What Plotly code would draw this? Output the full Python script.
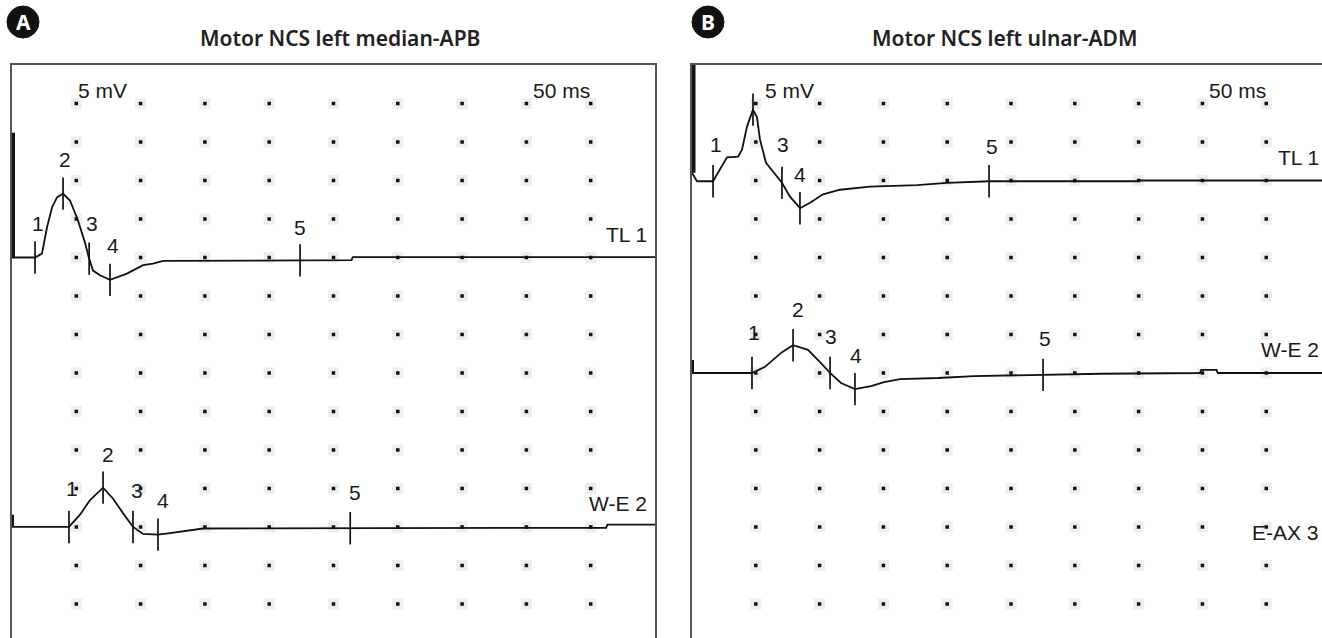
import numpy as np
import plotly.graph_objects as go

W, H = 1322, 638

# ---------------- data (time in ms, amplitude in mV relative to baseline) ----------------
# Panel A : Motor NCS left median-APB
a1_t = [0, 1.79, 2.33, 2.72, 3.11, 3.50, 3.97, 4.51, 5.13, 5.68, 5.99, 6.30, 6.84, 7.62,
        8.94, 10.19, 10.96, 11.74, 26.4, 26.5, 50]
a1_v = [0, 0, 0.5, 3.9, 6.5, 7.8, 8.3, 7.4, 4.8, 1.9, -0.1, -1.7, -2.3, -2.9,
        -2.1, -1.0, -0.8, -0.45, -0.35, 0.05, 0.05]
a1_marks = [1.79, 3.97, 6.0, 7.62, 22.4]
a1_labels = ["1", "2", "3", "4", "5"]
a1_label_t = [2.02, 4.12, 6.22, 7.85, 22.4]
a1_label_v = [4.4, 12.7, 4.4, 1.6, 3.9]

a2_t = [0, 4.43, 5.29, 6.07, 7.08, 7.85, 8.63, 9.41, 10.19, 11.35, 12.29, 14.85, 46.2, 46.3, 50]
a2_v = [0, 0, 1.6, 3.5, 5.1, 3.7, 1.8, 0, -0.9, -1.0, -0.8, -0.2, -0.1, 0.3, 0.3]
a2_marks = [4.43, 7.08, 9.41, 11.35, 26.3]
a2_labels = ["1", "2", "3", "4", "5"]
a2_label_t = [4.67, 7.47, 9.72, 11.74, 26.67]
a2_label_v = [5.0, 9.4, 4.8, 3.5, 4.5]

# Panel B : Motor NCS left ulnar-ADM
b1_t = [0, 0.39, 1.65, 2.04, 2.74, 3.61, 3.92, 4.31, 4.62, 4.78, 5.09, 5.33, 5.80, 6.35,
        7.05, 7.68, 8.46, 9.25, 10.27, 11.60, 13.95, 17.63, 19.98, 23.28, 34.95, 35.1, 49.4]
b1_v = [1.0, -0.1, -0.1, 1.0, 3.0, 3.1, 4.0, 7.0, 8.6, 9.2, 8.2, 5.3, 2.3, 1.2,
        -0.3, -2.1, -3.6, -2.9, -1.8, -1.2, -0.8, -0.6, -0.3, -0.1, -0.1, 0.0, 0.0]
b1_marks = [1.65, 4.78, 7.05, 8.46, 23.28]
b1_labels = ["1", "", "3", "4", "5"]
b1_label_t = [1.88, 4.78, 7.13, 8.46, 23.5]
b1_label_v = [4.7, 0, 4.7, 0.8, 4.4]

b2_t = [0, 4.70, 5.72, 7.05, 7.92, 9.09, 10.03, 10.82, 11.68, 12.77, 14.03, 15.05, 16.30,
        19.28, 22.10, 27.51, 32.05, 39.8, 39.9, 41.1, 41.2, 49.4]
b2_v = [0, 0, 0.8, 2.7, 3.6, 3.0, 1.4, 0, -1.3, -2.1, -1.7, -1.2, -0.8,
        -0.65, -0.4, -0.25, -0.1, 0, 0.4, 0.4, 0, 0]
b2_marks = [4.70, 7.92, 10.82, 12.77, 27.51]
b2_labels = ["1", "2", "3", "4", "5"]
b2_label_t = [4.86, 8.31, 10.9, 12.85, 27.7]
b2_label_v = [5.2, 8.3, 4.7, 2.3, 4.5]

# channel baselines (mV below top of screen) and names
a_offsets = [-25, -60]
a_names = ["TL 1", "W-E 2"]
b_offsets = [-15, -40, -65]
b_names = ["TL 1", "W-E 2", "E-AX 3"]
chan_label_dv = [3.0, 3.0, 4.3]

# calibration / stimulus bars (mV relative to channel baseline)
a_cal = [0, 16.2]
b_cal = [1.0, 15.0]
a2_start = [0, 1.6]
b2_start = [0, 1.7]

titles = ["Motor NCS left median-APB", "Motor NCS left ulnar-ADM"]
badges = ["A", "B"]
gain_text = "5 mV"
sweep_text = "50 ms"

div_ms = 5
div_mv = 5
a_xrange = [0, 50]
b_xrange = [0, 49.37]
y_range = [-74.42, 0]

# ---------------- figure ----------------
fig = go.Figure()
LBL_FONT = dict(family="Liberation Sans, Arial", size=21, color="#1a1a1a")
TICK_HALF = 2.1

def grid_dots(xa, ya, xr):
    cols = np.arange(div_ms, xr[1] - 1, div_ms)
    rows = -np.arange(div_mv, -y_range[0], div_mv)
    gx, gy = np.meshgrid(cols, rows)
    fig.add_trace(go.Scatter(x=gx.ravel(), y=gy.ravel(), mode="markers", xaxis=xa, yaxis=ya,
                             marker=dict(symbol="square", size=11, color="#eeeeee"),
                             hoverinfo="skip", showlegend=False))
    fig.add_trace(go.Scatter(x=gx.ravel(), y=gy.ravel(), mode="markers", xaxis=xa, yaxis=ya,
                             marker=dict(symbol="square", size=3.5, color="#111"),
                             hoverinfo="skip", showlegend=False))

def add_channel(xa, ya, t, v, off, marks, labels, lt, lv):
    t = np.asarray(t, float)
    y = np.asarray(v, float) + off
    fig.add_trace(go.Scatter(x=t, y=y, mode="lines", xaxis=xa, yaxis=ya,
                             line=dict(color="#111", width=1.8), hoverinfo="skip", showlegend=False))
    mx, my = [], []
    for m in marks:
        c = np.interp(m, t, y)
        mx += [m, m, None]
        my += [c - TICK_HALF, c + TICK_HALF, None]
    fig.add_trace(go.Scatter(x=mx, y=my, mode="lines", xaxis=xa, yaxis=ya,
                             line=dict(color="#111", width=1.7), hoverinfo="skip", showlegend=False))
    for s, tx, vy in zip(labels, lt, lv):
        if s:
            fig.add_annotation(x=tx, y=vy + off, text=s, xref=xa, yref=ya, showarrow=False,
                               font=LBL_FONT, xanchor="center", yanchor="middle")

def add_bar(xa, ya, off, rng, width):
    fig.add_trace(go.Scatter(x=[0, 0], y=[rng[0] + off, rng[1] + off], mode="lines",
                             xaxis=xa, yaxis=ya, line=dict(color="#111", width=width),
                             hoverinfo="skip", showlegend=False))

# Panel A
grid_dots("x", "y", a_xrange)
add_channel("x", "y", a1_t, a1_v, a_offsets[0], a1_marks, a1_labels, a1_label_t, a1_label_v)
add_channel("x", "y", a2_t, a2_v, a_offsets[1], a2_marks, a2_labels, a2_label_t, a2_label_v)
add_bar("x", "y", a_offsets[0], a_cal, 6)
add_bar("x", "y", a_offsets[1], a2_start, 4)

# Panel B
grid_dots("x2", "y2", b_xrange)
add_channel("x2", "y2", b1_t, b1_v, b_offsets[0], b1_marks, b1_labels, b1_label_t, b1_label_v)
add_channel("x2", "y2", b2_t, b2_v, b_offsets[1], b2_marks, b2_labels, b2_label_t, b2_label_v)
add_bar("x2", "y2", b_offsets[0], b_cal, 7)
add_bar("x2", "y2", b_offsets[1], b2_start, 4)

# gain / sweep and channel labels
for xa, ya, xr, gx in [("x", "y", a_xrange, 4.98), ("x2", "y2", b_xrange, 5.56)]:
    fig.add_annotation(x=gx, y=-3.3, xref=xa, yref=ya, text=gain_text, showarrow=False,
                       font=LBL_FONT, xanchor="left", yanchor="middle")
    fig.add_annotation(x=45.1, y=-3.3, xref=xa, yref=ya, text=sweep_text, showarrow=False,
                       font=LBL_FONT, xanchor="right", yanchor="middle")

for name, off, dv in zip(a_names, a_offsets, chan_label_dv):
    fig.add_annotation(x=49.5, y=off + dv, xref="x", yref="y", text=name, showarrow=False,
                       font=LBL_FONT, xanchor="right", yanchor="middle")
for name, off, dv in zip(b_names, b_offsets, chan_label_dv):
    fig.add_annotation(x=49.3, y=off + dv, xref="x2", yref="y2", text=name, showarrow=False,
                       font=LBL_FONT, xanchor="right", yanchor="middle")

# titles and badges
for title, badge, tx, bx in zip(titles, badges, [340, 1004], [23, 708]):
    fig.add_annotation(x=tx / W, y=1 - 38 / H, xref="paper", yref="paper", text=title,
                       showarrow=False, xanchor="center", yanchor="middle",
                       font=dict(family="Noto Sans, Open Sans", size=21, color="#222222",
                                 weight=600))
    r = 16
    cy = 22
    fig.add_shape(type="circle", xref="paper", yref="paper",
                  x0=(bx - r) / W, x1=(bx + r) / W, y0=1 - (cy + r) / H, y1=1 - (cy - r) / H,
                  fillcolor="#111", line=dict(color="#111", width=1))
    fig.add_annotation(x=bx / W, y=1 - cy / H, xref="paper", yref="paper", text=badge,
                       showarrow=False, xanchor="center", yanchor="middle",
                       font=dict(family="Noto Sans, Arial", size=21, color="white", weight="bold"))

ax_common = dict(showticklabels=False, ticks="", showgrid=False, zeroline=False,
                 linecolor="#555", linewidth=2, fixedrange=True)
fig.update_layout(
    width=W, height=H, autosize=False,
    margin=dict(l=0, r=0, t=0, b=0),
    paper_bgcolor="white", plot_bgcolor="white",
    showlegend=False,
    xaxis=dict(domain=[12 / W, 655 / W], range=a_xrange, anchor="y", side="top",
               showline=True, **ax_common),
    yaxis=dict(domain=[0, 573 / H], range=y_range, anchor="x", showline=True, mirror=True,
               **ax_common),
    xaxis2=dict(domain=[692 / W, 1.0], range=b_xrange, anchor="y2", side="top",
                showline=True, **ax_common),
    yaxis2=dict(domain=[0, 573 / H], range=y_range, anchor="x2", showline=True, mirror=False,
                **ax_common),
)

fig.write_html("out.html", config={"displayModeBar": False},
               post_script="document.body.style.margin='0';document.body.style.overflow='hidden';")
